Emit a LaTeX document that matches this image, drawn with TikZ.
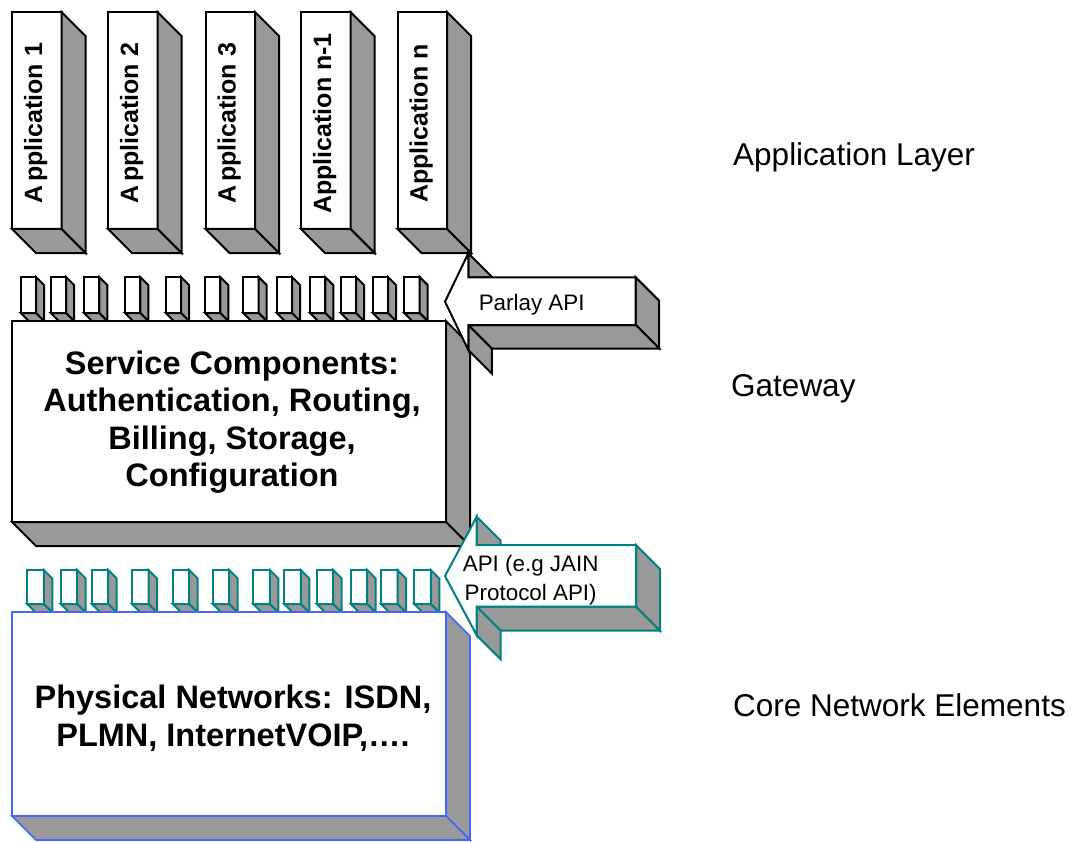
\documentclass[tikz,border=0pt]{standalone}
\usepackage{fontspec}
\setmainfont{Liberation Sans}
\definecolor{sidegray}{RGB}{153,153,153}
\definecolor{tealc}{RGB}{0,128,128}
\definecolor{bluec}{RGB}{68,102,255}
\newcommand\sidefaces[3]{%
  \draw[#3] (#1.north east) -- ++(#2,#2) -- ([shift={(#2,#2)}]#1.south east) -- (#1.south east) -- cycle;
  \draw[#3] (#1.south west) -- (#1.south east) -- ([shift={(#2,#2)}]#1.south east) -- ([shift={(#2,#2)}]#1.south west) -- cycle;
}
\begin{document}
\begin{tikzpicture}[x=1pt,y=-1pt,
  blackside/.style={draw=black,fill=sidegray,line width=2pt,line join=miter},
  tealside/.style={draw=tealc,fill=sidegray,line width=2pt,line join=miter},
  blueside/.style={draw=bluec,fill=sidegray,line width=1.6pt,line join=miter},
  frontblack/.style={draw=black,fill=white,line width=2pt,inner sep=0pt,outer sep=0pt,anchor=north west},
  frontteal/.style={draw=tealc,fill=white,line width=2pt,inner sep=0pt,outer sep=0pt,anchor=north west},
  frontblue/.style={draw=bluec,fill=white,line width=1.6pt,inner sep=0pt,outer sep=0pt,anchor=north west},
  appbox/.style={frontblack,minimum width=49.5pt,minimum height=217pt},
  apptext/.style={rotate=90,anchor=base,font=\fontsize{25}{29}\selectfont\bfseries,inner sep=0pt},
  gblock/.style={frontblack,minimum width=15.3pt,minimum height=36pt},
  tblock/.style={frontteal,minimum width=16.5pt,minimum height=34pt},
  bigtext/.style={align=center,font=\fontsize{32.5}{37.5}\selectfont\bfseries,inner sep=0pt},
  arrowtext/.style={align=center,font=\fontsize{22.4}{29}\selectfont,inner sep=0pt},
  layertext/.style={anchor=base west,font=\fontsize{31.5}{36}\selectfont,inner sep=0pt}
]
\useasboundingbox (0,0) rectangle (1083,842);

% Applications
\foreach \x/\n/\t in {12/1/A\kern4pt pplication 1,108/2/A\kern4pt pplication 2,205.5/3/A\kern4pt pplication 3,301/4/Application n-1,397.5/5/Application n}{
  \node[appbox] (app\n) at (\x,12) {};
  \sidefaces{app\n}{24}{blackside}
  \node[apptext] (apptxt\n) at ([xshift=30pt,yshift=-3pt]app\n.west) {\t};
}

% Gray connector blocks on the gateway
\foreach \x [count=\i] in {20.7,50.7,84,125,165.7,205,243.3,276.7,310,340.7,372.7,404.3}{
  \node[gblock] (g\i) at (\x,277) {};
  \sidefaces{g\i}{8}{blackside}
}

% Service components box
\node[frontblack,minimum width=434pt,minimum height=201pt] (svc) at (12,321) {};
\sidefaces{svc}{24}{blackside}
\node[bigtext] (svctxt) at (232,422) {Service Components:\\Authentication, Routing,\\Billing, Storage,\\Configuration};

% Teal connector blocks
\foreach \x [count=\i] in {27.3,60.7,91.7,132,172.7,212.7,253.3,284.3,316.7,350.7,381,414.3}{
  \node[tblock] (t\i) at (\x,570) {};
  \sidefaces{t\i}{8.5}{tealside}
}

% Physical networks box
\node[frontblue,minimum width=434pt,minimum height=204pt] (net) at (12,612) {};
\sidefaces{net}{24}{blueside}
\node[bigtext] (nettxt) at (233,718) {Physical Networks: ISDN,\\PLMN, InternetVOIP,….};

% Parlay API arrow
\draw[blackside] (635.7,277.3) -- (659.2,300.8) -- (659.2,348.5) -- (635.7,325) -- cycle;
\draw[blackside] (468.3,325) -- (635.7,325) -- (659.2,348.5) -- (491.8,348.5) -- cycle;
\draw[blackside] (468.3,325) -- (491.8,348.5) -- (491.8,373.5) -- (468.3,350) -- cycle;
\draw[blackside] (468.3,253.3) -- (491.8,276.8) -- (491.8,277.3) -- (468.3,277.3) -- cycle;
\draw[draw=black,fill=white,line width=2pt,line join=miter] (445,301.7) -- (468.3,253.3) -- (468.3,277.3) -- (635.7,277.3) -- (635.7,325) -- (468.3,325) -- (468.3,350) -- cycle;
\node[arrowtext,anchor=base] (parlay) at (531.7,310.7) {Parlay API};

% JAIN API arrow
\draw[tealside] (636,545) -- (660,569) -- (660,630.7) -- (636,606.7) -- cycle;
\draw[tealside] (476.7,606.7) -- (636,606.7) -- (660,630.7) -- (500.7,630.7) -- cycle;
\draw[tealside] (476.7,606.7) -- (500.7,630.7) -- (500.7,659.3) -- (476.7,635.3) -- cycle;
\draw[tealside] (476.7,516.7) -- (500.7,540.7) -- (500.7,545) -- (476.7,545) -- cycle;
\draw[draw=tealc,fill=white,line width=2pt,line join=miter] (445,576) -- (476.7,516.7) -- (476.7,545) -- (636,545) -- (636,606.7) -- (476.7,606.7) -- (476.7,635.3) -- cycle;
\node[arrowtext] (jain) at (530.7,580) {API (e.g JAIN\\Protocol API)};

% Layer labels
\node[layertext] (lapp) at (733,166) {Application Layer};
\node[layertext] (lgw) at (731,396.7) {Gateway};
\node[layertext] (lcore) at (733,716.7) {Core Network Elements};
\end{tikzpicture}
\end{document}
